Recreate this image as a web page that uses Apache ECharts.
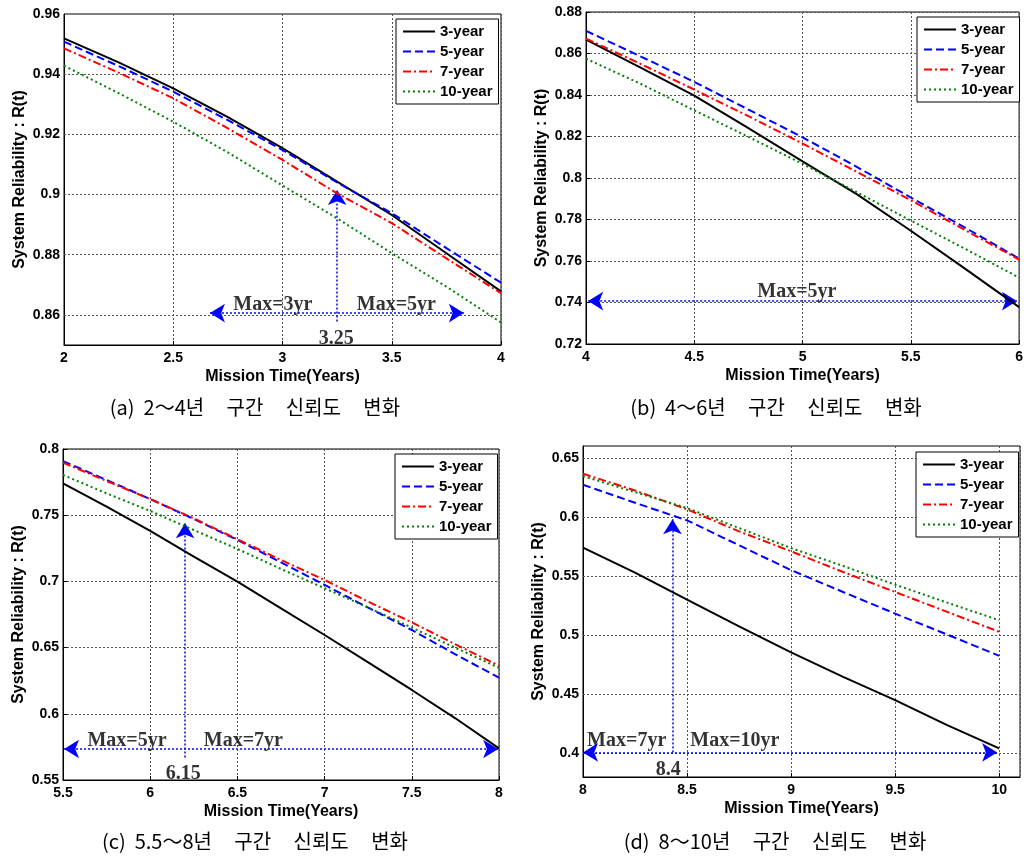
<!DOCTYPE html>
<html><head><meta charset="utf-8">
<script src="https://cdn.jsdelivr.net/npm/echarts@6/dist/echarts.min.js"></script>
<style>html,body{margin:0;padding:0;background:#fff}#c{width:1026px;height:858px}</style>
</head><body><div id="c"></div>
<script>
// ---------- data ----------
const seriesNames = ['3-year', '5-year', '7-year', '10-year'];
const xTitle = 'Mission Time(Years)';
const yTitle = 'System Reliability : R(t)';

// Panel (a): 2~4 years
const xA = [2, 2.25, 2.5, 2.75, 3, 3.25, 3.5, 3.75, 4];
const yA3  = [0.9519, 0.9439, 0.9353, 0.9257, 0.9154, 0.9043, 0.8932, 0.8805, 0.8678];
const yA5  = [0.9508, 0.9427, 0.9342, 0.9247, 0.9148, 0.9040, 0.8938, 0.8822, 0.8707];
const yA7  = [0.9486, 0.9405, 0.9320, 0.9220, 0.9115, 0.9004, 0.8905, 0.8788, 0.8672];
const yA10 = [0.9428, 0.9337, 0.9242, 0.9140, 0.9030, 0.8921, 0.8805, 0.8694, 0.8575];
const yTicksA = [0.86, 0.88, 0.9, 0.92, 0.94, 0.96];
const hArrowA = [2.668, 3.83, 0.8606];
const vArrowA = [3.25, 0.8578, 0.9015];
const textsA = [['Max=3yr', 2.956, 0.8634], ['Max=5yr', 3.521, 0.8634], ['3.25', 3.246, 0.8521]];
const captionA = '(a)  2～4년     구간     신뢰도     변화';

// Panel (b): 4~6 years
const xB = [4, 4.25, 4.5, 4.75, 5, 5.25, 5.5, 5.75, 6];
const yB3  = [0.8667, 0.8533, 0.8397, 0.8240, 0.8080, 0.7922, 0.7746, 0.7563, 0.7378];
const yB5  = [0.8709, 0.8587, 0.8463, 0.8330, 0.8196, 0.8054, 0.7906, 0.7761, 0.7612];
const yB7  = [0.8672, 0.8551, 0.8426, 0.8298, 0.8166, 0.8030, 0.7893, 0.7749, 0.7607];
const yB10 = [0.8575, 0.8455, 0.8326, 0.8198, 0.8068, 0.7932, 0.7795, 0.7659, 0.7520];
const yTicksB = [0.72, 0.74, 0.76, 0.78, 0.8, 0.82, 0.84, 0.86, 0.88];
const hArrowB = [4.01, 5.99, 0.7407];
const vArrowB = null;
const textsB = [['Max=5yr', 4.974, 0.7452]];
const captionB = '(b)  4～6년     구간     신뢰도     변화';

// Panel (c): 5.5~8 years
const xC = [5.5, 5.75, 6, 6.25, 6.5, 6.75, 7, 7.25, 7.5, 7.75, 8];
const yC3  = [0.7741, 0.7564, 0.7381, 0.7187, 0.6998, 0.6797, 0.6595, 0.6389, 0.6180, 0.5966, 0.5739];
const yC5  = [0.7909, 0.7766, 0.7622, 0.7471, 0.7313, 0.7144, 0.6973, 0.6802, 0.6633, 0.6449, 0.6273];
const yC7  = [0.7897, 0.7758, 0.7622, 0.7476, 0.7318, 0.7162, 0.7011, 0.6847, 0.6691, 0.6525, 0.6364];
const yC10 = [0.7804, 0.7665, 0.7532, 0.7388, 0.7245, 0.7094, 0.6948, 0.6802, 0.6651, 0.6499, 0.6348];
const yTicksC = [0.55, 0.6, 0.65, 0.7, 0.75, 0.8];
const hArrowC = [5.506, 7.995, 0.5734];
const vArrowC = [6.2, 0.567, 0.744];
const textsC = [['Max=5yr', 5.867, 0.5795], ['Max=7yr', 6.534, 0.5795], ['6.15', 6.19, 0.5545]];
const captionC = '(c)  5.5～8년     구간     신뢰도     변화';

// Panel (d): 8~10 years
const xD = [8, 8.25, 8.5, 8.75, 9, 9.25, 9.5, 9.75, 10];
const yD3  = [0.5740, 0.5529, 0.5300, 0.5075, 0.4855, 0.4647, 0.4450, 0.4239, 0.4042];
const yD5  = [0.6272, 0.6120, 0.5971, 0.5760, 0.5550, 0.5365, 0.5182, 0.5005, 0.4825];
const yD7  = [0.6365, 0.6224, 0.6064, 0.5878, 0.5709, 0.5534, 0.5365, 0.5197, 0.5028];
const yD10 = [0.6345, 0.6210, 0.6075, 0.5906, 0.5737, 0.5585, 0.5427, 0.5275, 0.5126];
const yTicksD = [0.4, 0.45, 0.5, 0.55, 0.6, 0.65];
const hArrowD = [8.0, 9.99, 0.4008];
const vArrowD = [8.43, 0.4008, 0.598];
const textsD = [['Max=7yr', 8.21, 0.4103], ['Max=10yr', 8.73, 0.4103], ['8.4', 8.41, 0.3858]];
const captionD = '(d)  8～10년     구간     신뢰도     변화';

// ---------- layout / style ----------
const lineStyles = [
  {color: '#000000', width: 2, type: 'solid'},
  {color: '#0000ff', width: 2, type: [8, 4]},
  {color: '#ff0000', width: 2, type: [8, 3, 2, 3]},
  {color: '#008000', width: 2, type: [2, 3]}
];

// fineStep: axis scale step used when the axis range does not start on a label value;
// labels/grid lines are then drawn only at the listed tick values.
const panels = [
  {x: xA, ys: [yA3, yA5, yA7, yA10], grid: {left: 64, top: 14, width: 437, height: 331},
   xr: [2, 4, 0.5], yr: [0.85, 0.96, 0.02], fineStep: 0.01, yTicks: yTicksA, hideXMax: false,
   legend: [396, 19], h: hArrowA, v: vArrowA, t: textsA, cap: captionA, capPos: [255, 397]},
  {x: xB, ys: [yB3, yB5, yB7, yB10], grid: {left: 586, top: 12, width: 436, height: 332},
   xr: [4, 6, 0.5], yr: [0.72, 0.88, 0.02], fineStep: null, yTicks: yTicksB, hideXMax: false,
   legend: [917, 17], h: hArrowB, v: vArrowB, t: textsB, cap: captionB, capPos: [776, 397]},
  {x: xC, ys: [yC3, yC5, yC7, yC10], grid: {left: 63, top: 449, width: 436, height: 331},
   xr: [5.5, 8, 0.5], yr: [0.55, 0.8, 0.05], fineStep: null, yTicks: yTicksC, hideXMax: false,
   legend: [395, 454], h: hArrowC, v: vArrowC, t: textsC, cap: captionC, capPos: [255, 831]},
  {x: xD, ys: [yD3, yD5, yD7, yD10], grid: {left: 583, top: 446, width: 437, height: 331},
   xr: [8, 10.1, 0.5], yr: [0.38, 0.66, 0.05], fineStep: 0.01, yTicks: yTicksD, hideXMax: true,
   legend: [916, 452], h: hArrowD, v: vArrowD, t: textsD, cap: captionD, capPos: [775, 831]}
];

const tickFont = {fontFamily: '"Liberation Sans", Arial, sans-serif', fontWeight: 'bold', fontSize: 14, color: '#000'};
const nameFont = {fontFamily: '"Liberation Sans", Arial, sans-serif', fontWeight: 'bold', fontSize: 16, color: '#000'};
const gridLineStyle = {color: '#555', type: [2, 2], width: 1};

const option = {animation: false, backgroundColor: '#fff', grid: [], xAxis: [], yAxis: [], series: [], legend: [], title: []};

panels.forEach((p, i) => {
  const fine = !!p.fineStep;
  option.grid.push(Object.assign({show: true, borderColor: '#000', borderWidth: 1, backgroundColor: 'transparent'}, p.grid));
  option.xAxis.push({
    gridIndex: i, type: 'value', min: p.xr[0], max: p.xr[1], interval: p.xr[2],
    name: xTitle, nameLocation: 'middle', nameGap: 24, nameTextStyle: nameFont,
    axisLine: {onZero: false, lineStyle: {color: '#000', width: 1}},
    axisTick: {inside: true, length: 4, lineStyle: {color: '#000'}},
    axisLabel: Object.assign({margin: 6, showMaxLabel: !p.hideXMax}, tickFont),
    splitLine: {show: true, lineStyle: gridLineStyle}
  });
  const yLabel = Object.assign({margin: 4}, tickFont);
  if (fine) {
    yLabel.formatter = v => (p.yTicks.some(t => Math.abs(t - v) < 1e-6) ? String(+v.toFixed(2)) : '');
  }
  option.yAxis.push({
    gridIndex: i, type: 'value', min: p.yr[0], max: p.yr[1], interval: fine ? p.fineStep : p.yr[2],
    name: yTitle, nameLocation: 'middle', nameGap: 36, nameTextStyle: nameFont,
    axisLine: {onZero: false, lineStyle: {color: '#000', width: 1}},
    axisTick: {show: !fine, inside: true, length: 4, lineStyle: {color: '#000'}},
    axisLabel: yLabel,
    splitLine: {show: !fine, lineStyle: gridLineStyle}
  });
  seriesNames.forEach((n, k) => {
    option.series.push({
      name: n, type: 'line', xAxisIndex: i, yAxisIndex: i, symbol: 'none', smooth: false,
      data: p.x.map((xv, j) => [xv, p.ys[k][j]]),
      lineStyle: lineStyles[k], itemStyle: {color: lineStyles[k].color}, z: 3
    });
  });
  if (fine) {
    option.series.push({
      name: 'grid' + i, type: 'line', xAxisIndex: i, yAxisIndex: i, data: [], symbol: 'none', z: 1,
      markLine: {silent: true, z: 1, symbol: ['none', 'none'], label: {show: false}, lineStyle: gridLineStyle,
        data: p.yTicks.filter(v => v > p.yr[0] && v < p.yr[1]).map(v => ({yAxis: v}))}
    });
  }
  const mlData = [[{coord: [p.h[0], p.h[2]]}, {coord: [p.h[1], p.h[2]]}]];
  if (p.v) mlData.push([{coord: [p.v[0], p.v[1]], symbol: 'none'}, {coord: [p.v[0], p.v[2]], symbol: 'arrow'}]);
  option.series.push({
    name: 'annot' + i, type: 'line', xAxisIndex: i, yAxisIndex: i, data: [], symbol: 'none', z: 3,
    markLine: {silent: true, z: 3, symbol: ['arrow', 'arrow'], symbolSize: [14, 15], label: {show: false},
      lineStyle: {color: '#0000ff', type: [2, 2], width: 1.5}, data: mlData}
  });
  option.series.push({
    name: 'text' + i, type: 'scatter', xAxisIndex: i, yAxisIndex: i, symbolSize: 1,
    itemStyle: {color: 'rgba(0,0,0,0)'}, z: 3,
    label: {show: true, position: 'inside', fontFamily: '"Liberation Serif", "Times New Roman", serif',
      fontWeight: 'bold', fontSize: 20, color: '#000'},
    data: p.t.map(t => ({value: [t[1], t[2]], label: {formatter: t[0]}}))
  });
  option.legend.push({
    left: p.legend[0], top: p.legend[1], orient: 'vertical', data: seriesNames, selectedMode: false,
    itemWidth: 32, itemHeight: 14, itemGap: 5, padding: [5, 6, 5, 6], z: 10,
    borderColor: '#000', borderWidth: 1, backgroundColor: '#fff',
    itemStyle: {opacity: 0},
    textStyle: {fontFamily: '"Liberation Sans", Arial, sans-serif', fontWeight: 'bold', fontSize: 15, color: '#000'}
  });
  option.title.push({
    text: p.cap, left: p.capPos[0], top: p.capPos[1], textAlign: 'center', padding: 0,
    textStyle: {fontFamily: '"Noto Sans CJK KR", sans-serif', fontWeight: 'normal', fontSize: 20, color: '#000'}
  });
});

const chart = echarts.init(document.getElementById('c'), null, {renderer: 'canvas'});
chart.setOption(option);
</script>
</body></html>
